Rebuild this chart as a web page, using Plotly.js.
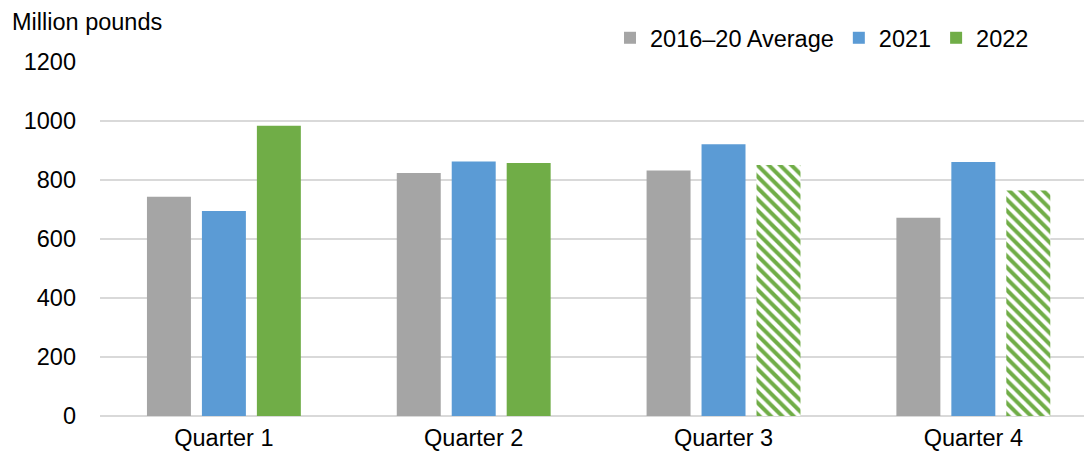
<!DOCTYPE html>
<html>
<head>
<meta charset="utf-8">
<script src="https://cdn.plot.ly/plotly-3.0.1.min.js"></script>
<style>
  html, body { margin: 0; padding: 0; background: #fff; }
  #chart { width: 1084px; height: 454px; }
</style>
</head>
<body>
<div id="chart"></div>
<script>
const categories = ["Quarter 1", "Quarter 2", "Quarter 3", "Quarter 4"];
const seriesNames = ["2016\u201320 Average", "2021", "2022"];
const avg2016_20 = [743, 824, 832, 672];
const values2021 = [695, 863, 921, 861];
const values2022 = [984, 858, 851, 764];
const projected2022 = [false, false, true, true];
const yTicks = [0, 200, 400, 600, 800, 1000, 1200];
const yAxisLabel = "Million pounds";

const FONT = "Liberation Sans, Arial, sans-serif";
const FS = 23.5;
const GRAY = "#A5A5A5", BLUE = "#5B9BD5", GREEN = "#70AD47";

const traces = [
  { type: "bar", name: seriesNames[0], x: categories, y: avg2016_20,
    marker: { color: GRAY, line: { width: 0 } }, hoverinfo: "y" },
  { type: "bar", name: seriesNames[1], x: categories, y: values2021,
    marker: { color: BLUE, line: { width: 0 } }, hoverinfo: "y" },
  { type: "bar", name: seriesNames[2], x: categories, y: values2022,
    marker: {
      color: GREEN, line: { width: 0 },
      pattern: {
        shape: projected2022.map(p => p ? "\\" : ""),
        fgcolor: GREEN, bgcolor: "#ffffff", fillmode: "replace",
        size: 8, solidity: 0.5
      }
    }, hoverinfo: "y" }
];

const layout = {
  width: 1084, height: 454,
  margin: { l: 100, r: 0, t: 62, b: 38, pad: 0 },
  paper_bgcolor: "#ffffff", plot_bgcolor: "#ffffff",
  font: { family: FONT, size: FS, color: "#000000" },
  barmode: "group", bargap: 0.34, bargroupgap: 0.2,
  showlegend: true,
  legend: {
    orientation: "h", xref: "container", yref: "container",
    x: 1034 / 1084, xanchor: "right", y: 1 - 38 / 454, yanchor: "middle",
    font: { family: FONT, size: FS, color: "#000000" },
    itemwidth: 30, traceorder: "normal", bgcolor: "rgba(0,0,0,0)"
  },
  xaxis: {
    type: "category", range: [-0.496, 3.443],
    showgrid: false, showline: false, zeroline: false,
    ticks: "", ticklabelstandoff: 5,
    tickfont: { family: FONT, size: FS, color: "#000000" }
  },
  yaxis: {
    range: [0, 1200], tickvals: yTicks, ticktext: yTicks.map(String),
    showgrid: true, gridcolor: "#D9D9D9", gridwidth: 1.5,
    zeroline: true, zerolinecolor: "#D9D9D9", zerolinewidth: 1.5,
    showline: false, ticks: "", ticklabelstandoff: 23,
    tickfont: { family: FONT, size: FS, color: "#000000" }
  },
  annotations: [{
    text: yAxisLabel, xref: "paper", yref: "paper",
    x: (10 - 100) / 984, xanchor: "left",
    y: (416 - 22) / 354, yanchor: "middle",
    showarrow: false,
    font: { family: FONT, size: FS, color: "#000000" }
  }]
};

Plotly.newPlot("chart", traces, layout, { displayModeBar: false, staticPlot: true });
</script>
</body>
</html>
